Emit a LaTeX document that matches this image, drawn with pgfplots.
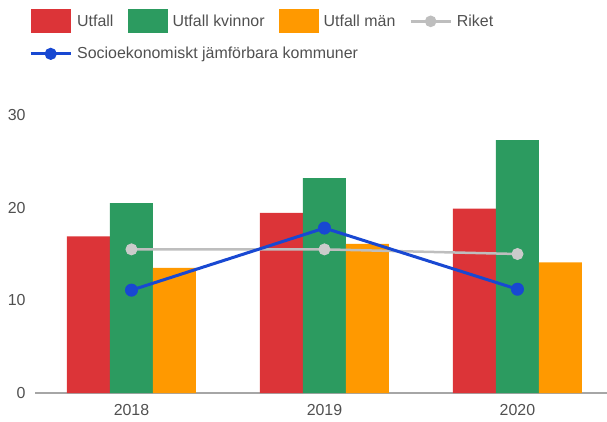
\documentclass[border=0pt]{standalone}
\usepackage{fontspec}
\setmainfont{Liberation Sans}
\usepackage{pgfplots}
\pgfplotsset{compat=1.18}
\definecolor{cRed}{RGB}{220,52,56}
\definecolor{cGreen}{RGB}{44,155,96}
\definecolor{cOrange}{RGB}{255,153,0}
\definecolor{cGray}{RGB}{190,190,190}
\definecolor{cBlue}{RGB}{24,72,210}
\definecolor{cText}{RGB}{80,80,80}
\begin{document}
\begin{tikzpicture}[x=1bp,y=1bp]
\useasboundingbox (0,0) rectangle (607,421);
\begin{axis}[
  at={(35bp,28bp)}, anchor=south west,
  scale only axis, width=572bp, height=278bp,
  xmin=-0.5, xmax=2.464, ymin=0, ymax=30,
  xtick={0,1,2}, xticklabels={2018,2019,2020},
  ytick={0,10,20,30},
  major tick length=0pt,
  axis x line*=bottom, axis y line*=left,
  y axis line style={draw=none},
  x axis line style={draw=gray!70, line width=1.2bp, -},
  tick label style={font=\fontsize{16}{19}\selectfont, text=cText},
  /pgf/number format/assume math mode=true,
  yticklabel style={xshift=-6bp},
  xticklabel style={yshift=-8bp},
  clip=false,
  legend style={at={(rel axis cs:-0.0157,1.388)}, anchor=north west, draw=none, fill=none,
    font=\fontsize{16}{19}\selectfont, text=cText, legend cell align=left,
    /tikz/every odd column/.append style={column sep=4bp},
    /tikz/every even column/.append style={column sep=13bp},
    row sep=13bp, nodes={inner sep=1bp}},
  legend columns=4,
]
\addplot[ybar, bar width=43bp, bar shift=-43bp, fill=cRed, draw=none,
  legend image code/.code={\fill[cRed] (0bp,-12bp) rectangle (40bp,12bp);}]
  coordinates {(0,16.9) (1,19.45) (2,19.9)};
\addlegendentry{Utfall}
\addplot[ybar, bar width=43bp, bar shift=0bp, fill=cGreen, draw=none,
  legend image code/.code={\fill[cGreen] (0bp,-12bp) rectangle (40bp,12bp);}]
  coordinates {(0,20.5) (1,23.2) (2,27.3)};
\addlegendentry{Utfall kvinnor}
\addplot[ybar, bar width=43bp, bar shift=43bp, fill=cOrange, draw=none,
  legend image code/.code={\fill[cOrange] (0bp,-12bp) rectangle (40bp,12bp);}]
  coordinates {(0,13.5) (1,16.1) (2,14.1)};
\addlegendentry{Utfall män}
\addplot[cGray, line width=2.5bp, mark=*, mark size=5.5bp, mark options={fill=cGray!80, draw=cGray!80, line width=1bp},
  legend image code/.code={\draw[cGray, line width=2.5bp] (0bp,0bp) -- (40bp,0bp); \fill[cGray] (20bp,0bp) circle (4.5bp);}]
  coordinates {(0,15.5) (1,15.5) (2,15.0)};
\addlegendentry{Riket}
\addplot[cBlue, line width=3bp, mark=*, mark size=6bp, mark options={fill=cBlue, draw=cBlue, line width=1bp},
  legend image code/.code={\draw[cBlue, line width=3bp] (0bp,0bp) -- (40bp,0bp); \fill[cBlue] (20bp,0bp) circle (4.5bp);}]
  coordinates {(0,11.1) (1,17.8) (2,11.2)};
\addlegendentry{\makebox[0pt][l]{Socioekonomiskt jämförbara kommuner}}
\end{axis}
\end{tikzpicture}
\end{document}
